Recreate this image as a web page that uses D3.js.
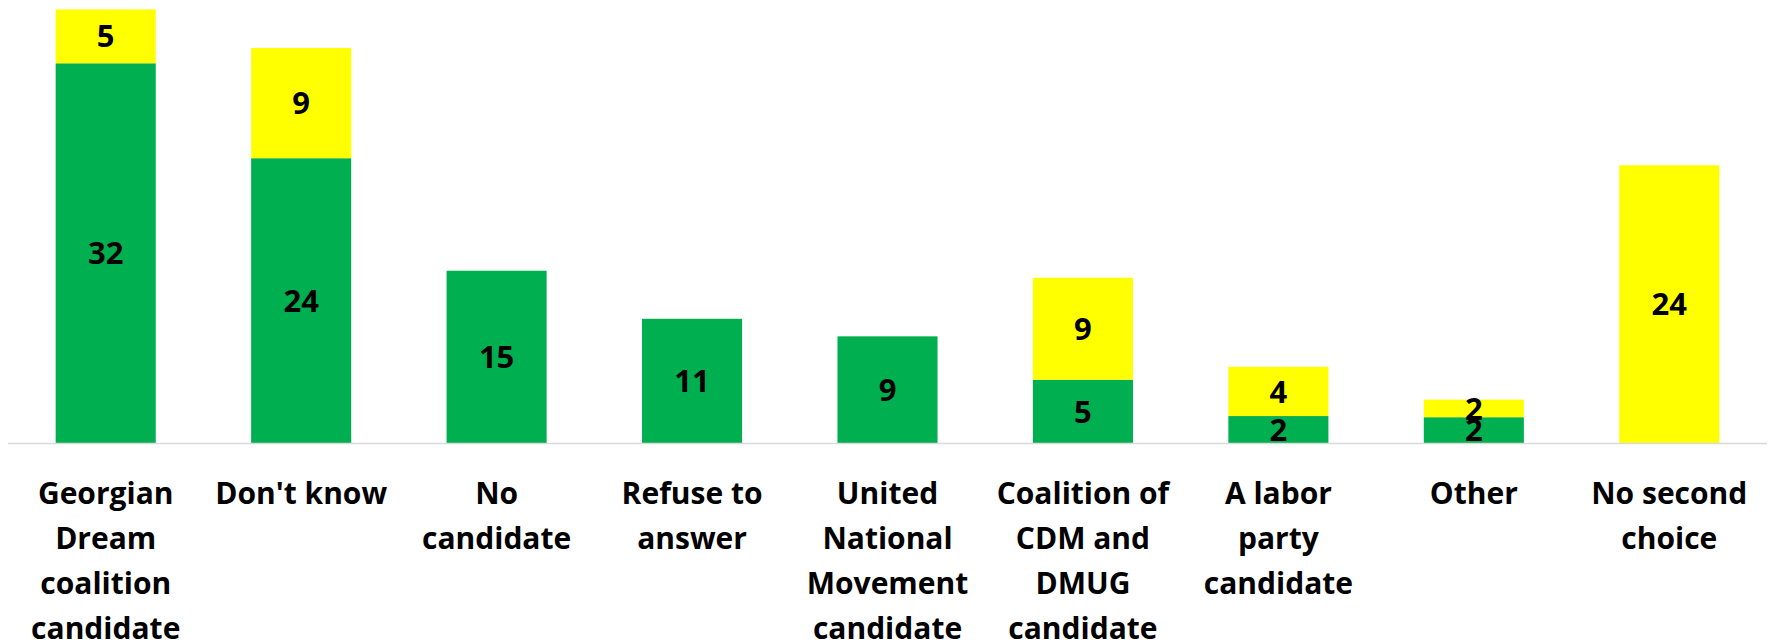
<!DOCTYPE html>
<html>
<head>
<meta charset="utf-8">
<script src="https://cdn.jsdelivr.net/npm/d3@7"></script>
<style>
  body { margin: 0; background: #fff; }
  svg { display: block; }
  text { font-family: "Open Sans", sans-serif; font-weight: 700; fill: #000; }
</style>
</head>
<body>
<script>
// categories (one entry per line of the wrapped label)
var categories = [
  ["Georgian", "Dream", "coalition", "candidate"],
  ["Don't know"],
  ["No", "candidate"],
  ["Refuse to", "answer"],
  ["United", "National", "Movement", "candidate"],
  ["Coalition of", "CDM and", "DMUG", "candidate"],
  ["A labor", "party", "candidate"],
  ["Other"],
  ["No second", "choice"]
];

// first choice (green) and second choice (yellow)
var greenValues  = [32.4, 24.3, 14.7, 10.6, 9.1, 5.4, 2.3, 2.2, 0];
var yellowValues = [4.6, 9.4, 0, 0, 0, 8.7, 4.2, 1.5, 23.7];

var greenColor = "#00B050",
    yellowColor = "#FFFF00";

var width = 1771, height = 644;
var baseline = 443;

var svg = d3.select("body").append("svg")
  .attr("width", width)
  .attr("height", height);

// x scale: one band per category
var x = d3.scaleBand()
  .domain(d3.range(categories.length))
  .range([8, 1767])
  .paddingInner(0.488)
  .paddingOuter(0.244);

var y = d3.scaleLinear()
  .domain([0, 37.8])
  .range([baseline, 0]);

// stack the two series
var rows = categories.map(function(c, i) {
  return { i: i, green: greenValues[i], yellow: yellowValues[i] };
});
var stack = d3.stack().keys(["green", "yellow"]);
var series = stack(rows);
var colors = { green: greenColor, yellow: yellowColor };

var layers = svg.selectAll("g.layer")
  .data(series)
  .enter().append("g")
  .attr("class", "layer")
  .attr("fill", function(d) { return colors[d.key]; });

layers.selectAll("rect")
  .data(function(d) { return d.filter(function(s) { return s[1] - s[0] > 0; }); })
  .enter().append("rect")
  .attr("x", function(d) { return x(d.data.i); })
  .attr("width", x.bandwidth())
  .attr("y", function(d) { return y(d[1]); })
  .attr("height", function(d) { return y(d[0]) - y(d[1]); });

// baseline
svg.append("line")
  .attr("x1", x.range()[0])
  .attr("x2", x.range()[1])
  .attr("y1", baseline + 0.5)
  .attr("y2", baseline + 0.5)
  .attr("stroke", "#d9d9d9")
  .attr("stroke-width", 1.5);

// data labels in the middle of each segment
layers.selectAll("text")
  .data(function(d) { return d.filter(function(s) { return s[1] - s[0] > 0; }); })
  .enter().append("text")
  .attr("x", function(d) { return x(d.data.i) + x.bandwidth() / 2; })
  .attr("y", function(d) { return y((d[0] + d[1]) / 2); })
  .attr("dy", "0.36em")
  .attr("text-anchor", "middle")
  .style("font-size", "31px")
  .text(function(d) { return Math.round(d[1] - d[0]); });

// category labels
var labels = svg.selectAll("text.cat")
  .data(categories)
  .enter().append("text")
  .attr("class", "cat")
  .attr("text-anchor", "middle")
  .style("font-size", "30px")
  .attr("transform", function(d, i) {
    return "translate(" + (x(i) + x.bandwidth() / 2) + ",504)";
  });

labels.selectAll("tspan")
  .data(function(d) { return d; })
  .enter().append("tspan")
  .attr("x", 0)
  .attr("y", function(d, j) { return j * 45; })
  .text(function(d) { return d; });
</script>
</body>
</html>
